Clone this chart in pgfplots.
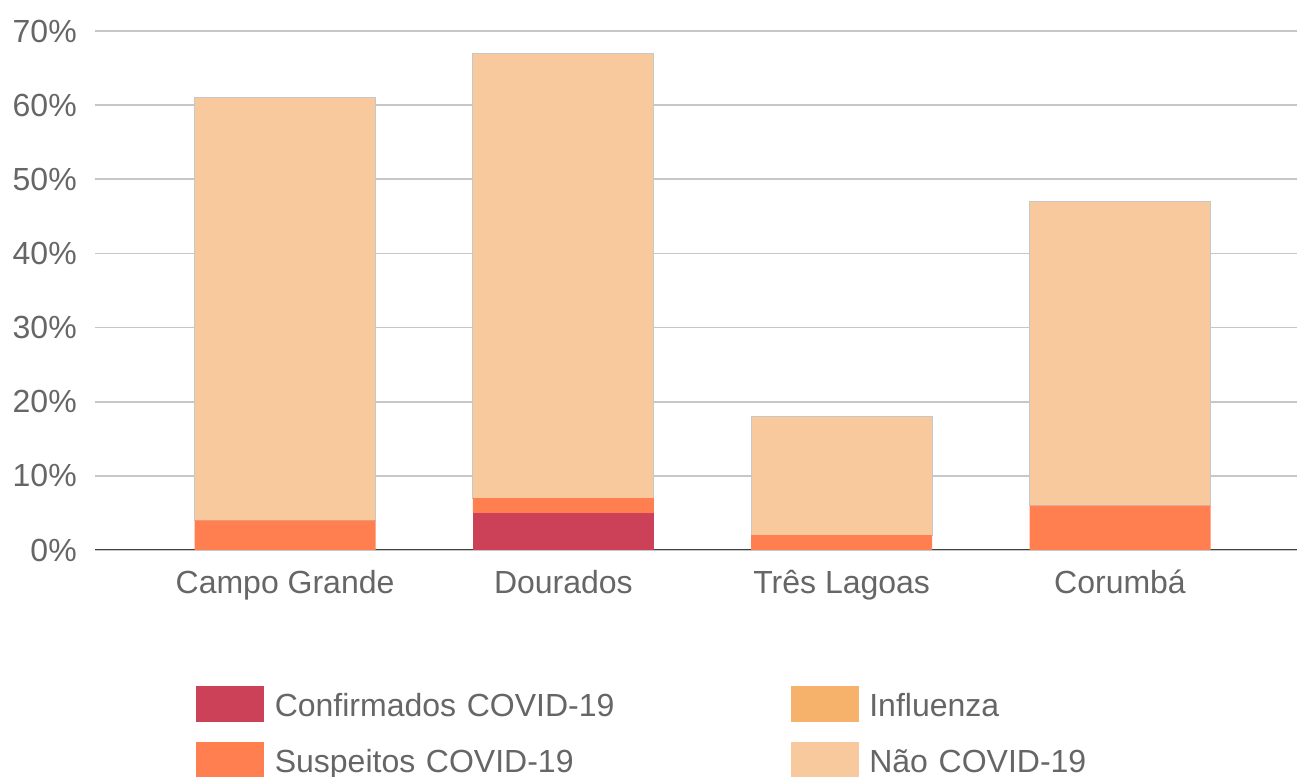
\documentclass[border=0pt]{standalone}
\usepackage{fontspec}
\setmainfont{Liberation Sans}
\usepackage{pgfplots}
\pgfplotsset{compat=1.18}
\definecolor{conf}{HTML}{CC4157}
\definecolor{susp}{HTML}{FF7F50}
\definecolor{infl}{HTML}{F6B26B}
\definecolor{nao}{HTML}{F8C99C}
\definecolor{txt}{HTML}{666666}
\begin{document}
\begin{tikzpicture}
\path[clip, use as bounding box] (-71.25pt,-170.25pt) rectangle (901.5pt,412.5pt);
\begin{axis}[
  scale only axis, width=901.5pt, height=389.25pt,
  ybar stacked, bar width=135.75pt,
  xmin=-0.683, xmax=3.636, ymin=0, ymax=70,
  xtick={0,1,2,3},
  xticklabels={Campo Grande, Dourados, Três Lagoas, Corumbá},
  ytick={0,10,...,70},
  yticklabels={0\%,10\%,20\%,30\%,40\%,50\%,60\%,70\%},
  major tick length=0pt,
  axis line style={draw=none},
  ymajorgrids, grid style={color=black!22, line width=1.2pt},
  ticklabel style={font=\fontsize{24}{28}\selectfont, text=txt},
  yticklabel style={inner sep=0pt, anchor=east, xshift=-13.5pt},
  xticklabel style={inner sep=0pt, anchor=north, yshift=-15pt},
  legend columns=2,
  legend style={at={(0.08403,-0.2620)}, anchor=north west, draw=none, fill=none,
    inner sep=0pt, column sep=0pt, row sep=13.7pt,
    font=\fontsize{24}{28}\selectfont, text=txt,
    nodes={inner sep=0pt, text width=387pt, text height=17.5pt, text depth=5pt, align=left},
    /tikz/every odd column/.append style={column sep=8.25pt}},
]
\addplot[fill=conf, draw=none, forget plot] coordinates {(0,0) (1,5) (2,0) (3,0)};
\addplot[fill=susp, draw=none, forget plot] coordinates {(0,4) (1,2) (2,2) (3,6)};
\addplot[fill=infl, draw=none, forget plot] coordinates {(0,0) (1,0) (2,0) (3,0)};
\addplot[fill=nao, draw=black!22, line width=0.6pt, forget plot] coordinates {(0,57) (1,60) (2,16) (3,41)};
\draw[color=black!75, line width=1.5pt] (rel axis cs:0,0) -- (rel axis cs:1,0);
\addlegendimage{legend image code/.code={\fill[conf] (0pt,-9.75pt) rectangle (50.25pt,16.5pt);}}
\addlegendentry{Confirmados COVID-19}
\addlegendimage{legend image code/.code={\fill[infl] (0pt,-9.75pt) rectangle (50.25pt,16.5pt);}}
\addlegendentry{Influenza}
\addlegendimage{legend image code/.code={\fill[susp] (0pt,-9.75pt) rectangle (50.25pt,16.5pt);}}
\addlegendentry{Suspeitos COVID-19}
\addlegendimage{legend image code/.code={\fill[nao] (0pt,-9.75pt) rectangle (50.25pt,16.5pt);}}
\addlegendentry{Não COVID-19}
\end{axis}
\end{tikzpicture}
\end{document}
